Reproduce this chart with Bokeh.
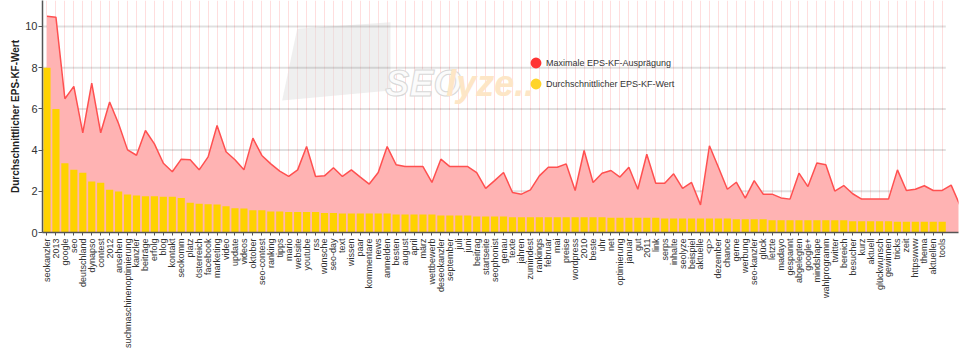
import math
from bokeh.plotting import figure
from bokeh.models import (Range1d, FixedTicker, Legend, LegendItem, PolyAnnotation, Label,
                          ColumnDataSource)
from bokeh.embed import file_html
from bokeh.resources import INLINE

categories = [
    "seokanzler", "2013", "google", "seo", "deutschland", "dynapso", "contest", "2012", "ansehen",
    "suchmaschinenoptimierung", "kanzler", "beiträge", "erfolg", "blog", "kontakt", "seokomm", "platz",
    "österreich", "facebook", "marketing", "video", "update", "videos", "oktober", "seo-contest",
    "ranking", "tipps", "mario", "website", "youtube", "rss", "wünsche", "seo-day", "text", "wissen",
    "paar", "kommentare", "news", "anmelden", "besten", "august", "april", "märz", "wettbewerb",
    "deseokanzler", "september", "juli", "juni", "beitrag", "startseite", "seophonist", "genau",
    "texte", "jahren", "zumindest", "rankings", "februar", "mai", "preise", "wordpress", "2010",
    "beste", "uhr", "net", "optimierung", "januar", "gut", "2011", "link", "serps", "inhalte",
    "seolyze", "beispiel", "aktuelle", "<p>", "dezember", "chance", "gerne", "werbung",
    "seo-kanzler", "glück", "letzte", "madayo", "gespannt", "abgelegten", "google+", "mindshape",
    "wahlprogramm", "twitter", "bereich", "besucher", "kurz", "aktuell", "glückwunsch", "gewinnen",
    "tricks", "zeit", "httpswww", "thema", "aktuellen", "tools",
]

avg_values = [
    8.0, 6.0, 3.36, 3.04, 2.9, 2.48, 2.41, 2.07, 1.99, 1.84,
    1.8, 1.76, 1.76, 1.73, 1.73, 1.67, 1.44, 1.39, 1.37, 1.36,
    1.28, 1.18, 1.17, 1.08, 1.08, 1.02, 1.02, 0.99, 0.99, 0.99,
    0.99, 0.95, 0.95, 0.92, 0.92, 0.92, 0.92, 0.92, 0.92, 0.87,
    0.87, 0.87, 0.87, 0.87, 0.82, 0.82, 0.82, 0.82, 0.78, 0.78,
    0.78, 0.78, 0.74, 0.74, 0.74, 0.74, 0.74, 0.74, 0.74, 0.74,
    0.74, 0.74, 0.74, 0.71, 0.71, 0.71, 0.71, 0.71, 0.71, 0.68,
    0.68, 0.68, 0.68, 0.68, 0.68, 0.68, 0.68, 0.64, 0.64, 0.64,
    0.64, 0.6, 0.6, 0.6, 0.6, 0.6, 0.6, 0.6, 0.6, 0.6,
    0.55, 0.55, 0.55, 0.55, 0.55, 0.52, 0.52, 0.52, 0.52, 0.52,
    0.52,
]

# maximum series continues past the last labelled category (cut off at the right edge)
max_values = [
    10.49, 10.45, 6.49, 7.09, 4.84, 7.25, 4.84, 6.33, 5.28, 4.01,
    3.75, 4.95, 4.3, 3.36, 2.95, 3.56, 3.53, 3.04, 3.67, 5.19,
    3.92, 3.53, 3.04, 4.58, 3.74, 3.33, 2.98, 2.72, 3.04, 4.17,
    2.72, 2.75, 3.14, 2.72, 3.04, 2.69, 2.35, 2.91, 4.17, 3.29,
    3.2, 3.2, 3.2, 2.43, 3.56, 3.2, 3.2, 3.2, 2.91, 2.14,
    2.52, 2.91, 1.94, 1.86, 2.07, 2.75, 3.17, 3.17, 3.33, 2.04,
    3.98, 2.43, 2.88, 3.01, 2.69, 3.17, 2.1, 3.8, 2.39, 2.39,
    2.85, 2.14, 2.43, 1.34, 4.21, 3.17, 2.1, 2.44, 1.67, 2.52,
    1.86, 1.86, 1.68, 1.62, 2.88, 2.23, 3.37, 3.29, 2.01, 2.28,
    1.88, 1.62, 1.62, 1.62, 1.62, 3.04, 2.04, 2.1, 2.27, 2.04,
    2.04, 2.3, 1.3,
]

y_ticks = [0, 2, 4, 6, 8, 10]
y_title = "Durchschnittlicher EPS-KF-Wert"
legend_max = "Maximale EPS-KF-Ausprägung"
legend_avg = "Durchschnittlicher EPS-KF-Wert"

FONT = "Liberation Sans"

n = len(categories)
x_cat = list(range(n))
x_max = list(range(len(max_values)))

p = figure(width=960, height=352, output_backend="svg", toolbar_location=None,
           x_range=Range1d(-0.5, 101.82), y_range=Range1d(0, 11.26),
           min_border_left=42, min_border_right=2, min_border_top=0, min_border_bottom=120)
p.outline_line_color = None
p.background_fill_color = "white"
p.border_fill_color = "white"

# watermark
p.add_layout(PolyAnnotation(xs=[26.27, 27.95, 38.37, 38.37], ys=[6.41, 9.89, 10.21, 6.89],
                            fill_color="#dcdcdc", fill_alpha=0.45, line_color=None, level="underlay"))
p.add_layout(Label(x=37.8, y=7.23, text="SEO", text_font=FONT, text_font_size="36px",
                   text_font_style="bold italic", text_color="#fbfbfb", text_baseline="alphabetic",
                   text_outline_color="#d8d8d8", level="underlay"))
p.add_layout(Label(x=44.6, y=7.23, text="lyze..", text_font=FONT, text_font_size="36px",
                   text_font_style="bold italic", text_color="#fde6c6", text_baseline="alphabetic",
                   level="underlay"))

# grid
p.xgrid.grid_line_color = "#ff0000"
p.xgrid.grid_line_alpha = 0.13
p.xgrid.grid_line_width = 1
p.ygrid.grid_line_color = None
gsrc = ColumnDataSource(dict(x0=[-0.5] * len(y_ticks), x1=[n - 0.6] * len(y_ticks), y=y_ticks))
p.segment(x0="x0", x1="x1", y0="y", y1="y", source=gsrc, line_color="#000000",
          line_alpha=0.12, line_width=2)

area = p.varea(x=x_max, y1=0, y2=max_values, fill_color="#ffb3b3", fill_alpha=1)
bars = p.vbar(x=x_cat, top=avg_values, width=0.8, fill_color="#ffd200", line_color=None)
line = p.line(x=x_max, y=max_values, line_color="#ff5050", line_width=1.5)

# legend glyphs (not drawn in the plot area: NaN positions)
nan = float("nan")
r_leg_max = p.scatter(x=[nan], y=[nan], marker="circle", fill_color="#ff3333",
                      line_color="#ff3333", line_width=2.5)
r_leg_avg = p.scatter(x=[nan], y=[nan], marker="circle", fill_color="#ffd42a",
                      line_color="#ffd42a", line_width=2.5)
legend = Legend(items=[LegendItem(label=legend_max, renderers=[r_leg_max]),
                       LegendItem(label=legend_avg, renderers=[r_leg_avg])],
                location=(483, 138), orientation="vertical",
                glyph_width=21, glyph_height=21, label_height=21, spacing=0,
                label_standoff=0, padding=0, margin=0,
                background_fill_alpha=0, border_line_color=None,
                label_text_font=FONT, label_text_font_size="9px", label_text_color="#333333")
p.add_layout(legend)

# axes
p.xaxis.ticker = FixedTicker(ticks=x_cat)
p.xaxis.major_label_overrides = {i: c for i, c in enumerate(categories)}
p.xaxis.major_label_orientation = math.pi / 2
p.xaxis.major_label_text_font = FONT
p.xaxis.major_label_text_font_size = "9px"
p.xaxis.major_label_text_color = "#333333"
p.xaxis.major_label_standoff = 3
p.xaxis.axis_line_color = "#555555"
p.xaxis.axis_line_width = 1.5
p.xaxis.major_tick_line_color = "#555555"
p.xaxis.major_tick_out = 3
p.xaxis.major_tick_in = 0
p.xaxis.minor_tick_line_color = None

p.yaxis.ticker = FixedTicker(ticks=y_ticks)
p.yaxis.major_label_text_font = FONT
p.yaxis.major_label_text_font_size = "11px"
p.yaxis.major_label_text_color = "#333333"
p.yaxis.major_label_standoff = 1
p.yaxis.axis_line_color = "#555555"
p.yaxis.axis_line_width = 1.5
p.yaxis.major_tick_line_color = "#555555"
p.yaxis.major_tick_out = 4
p.yaxis.major_tick_in = 0
p.yaxis.minor_tick_line_color = None
p.yaxis.axis_label = y_title
p.yaxis.axis_label_text_font = FONT
p.yaxis.axis_label_text_font_size = "10px"
p.yaxis.axis_label_text_font_style = "bold"
p.yaxis.axis_label_text_color = "#222222"
p.yaxis.axis_label_standoff = 1

open("out.html", "w").write(file_html(p, INLINE))
